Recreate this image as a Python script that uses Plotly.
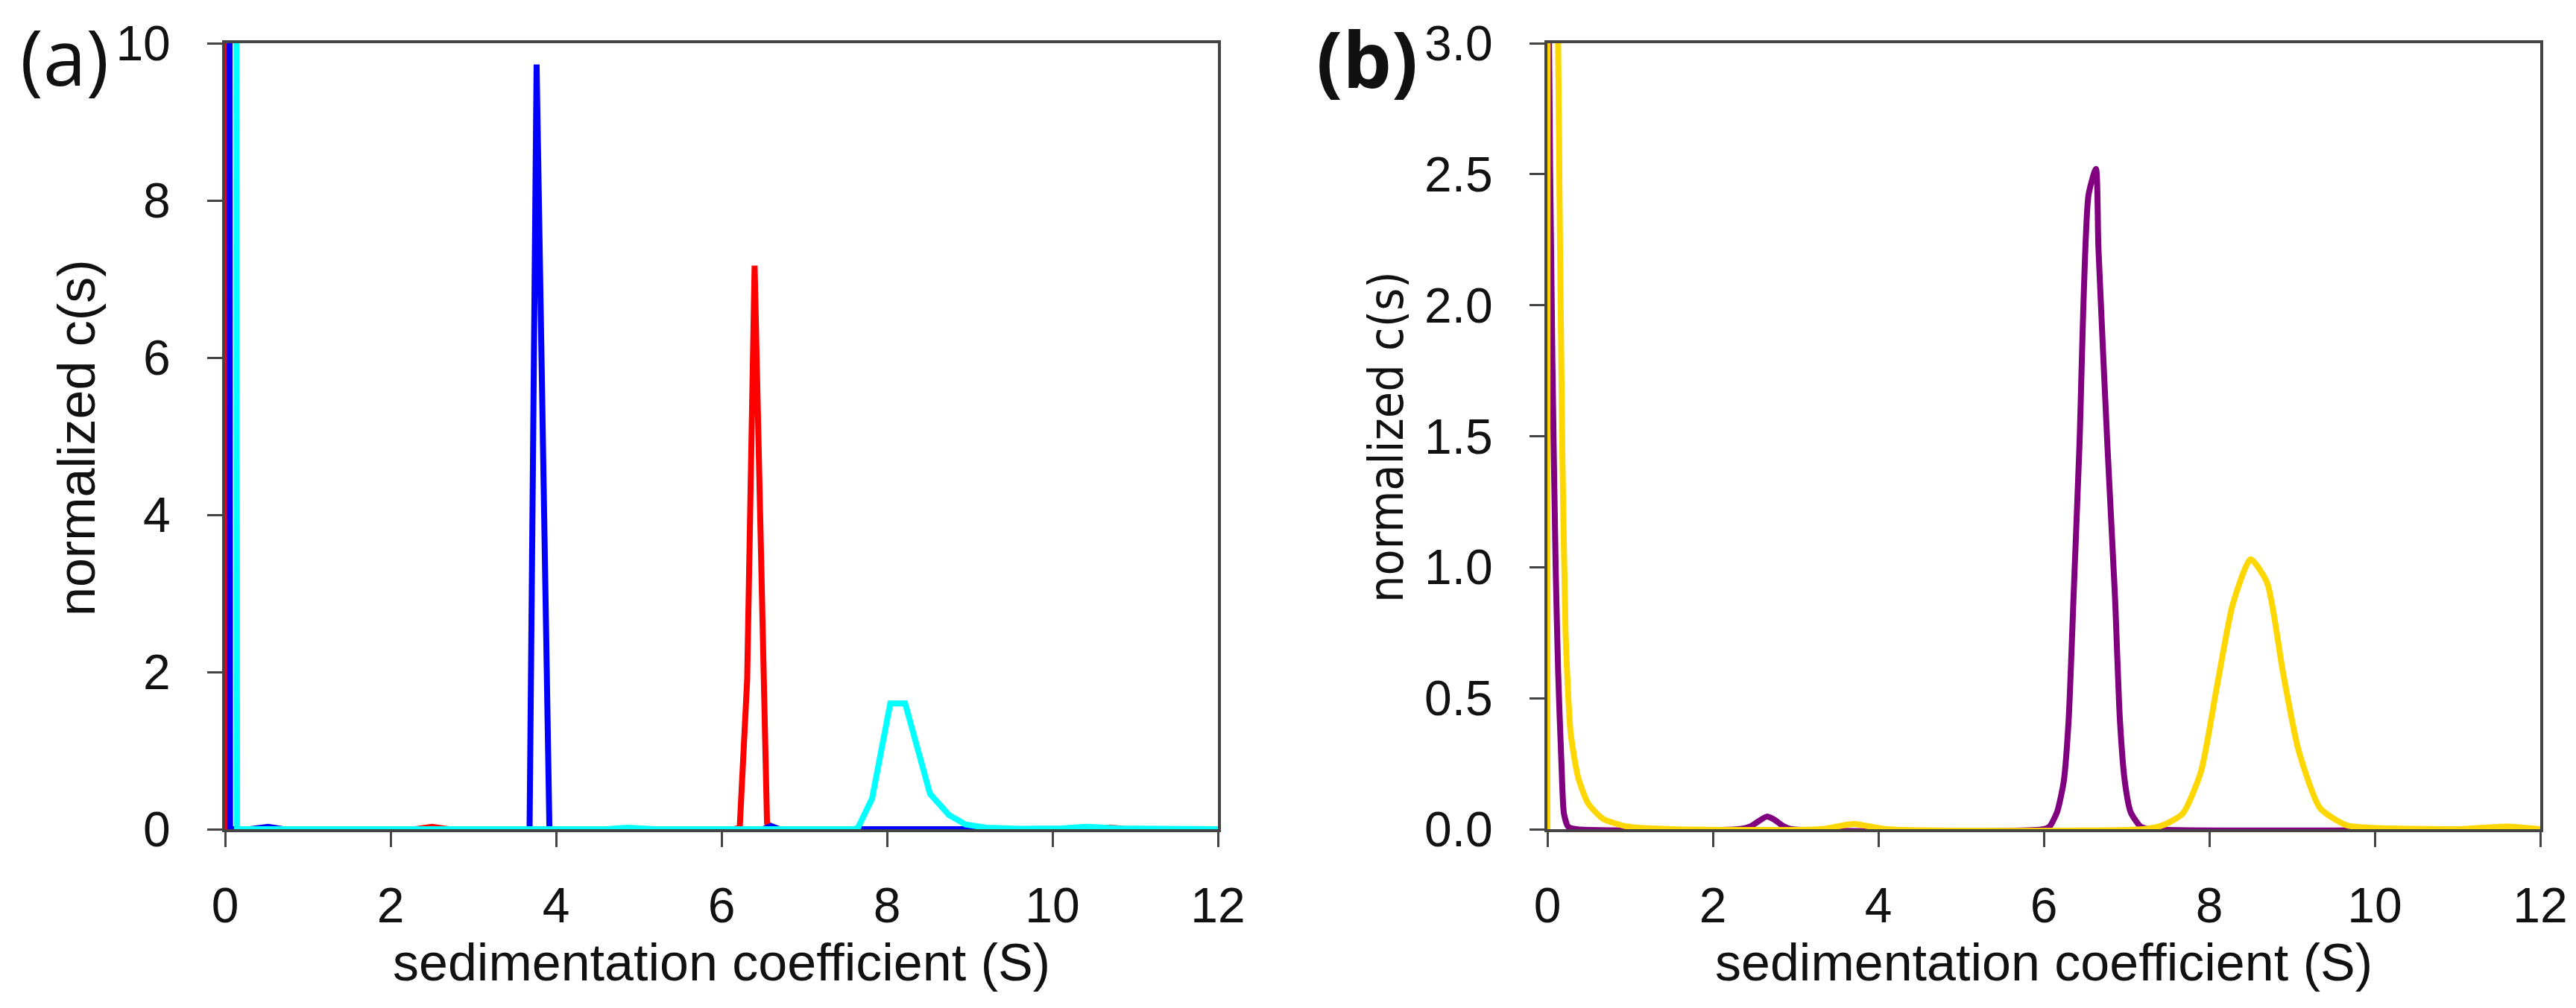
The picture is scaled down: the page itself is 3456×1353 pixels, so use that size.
import plotly.graph_objects as go

W, H = 3456, 1353

# ---------------- Panel (a) data ----------------
a_red_x = [0.0, 0.02, 0.3, 1.0, 2.3, 2.5, 2.7, 4.0, 6.15, 6.22, 6.31, 6.40, 6.55, 6.62, 8.0, 10.5, 10.7, 10.9, 12.0]
a_red_y = [60, 0.0, 0.0, 0.0, 0.0, 0.03, 0.0, 0.0, 0.0, 0.02, 1.9, 7.17, 0.08, 0.0, 0.0, 0.0, 0.02, 0.0, 0.0]

a_blue_x = [0.03, 0.06, 0.3, 0.52, 0.7, 3.6, 3.68, 3.765, 3.92, 4.0, 6.5, 6.6, 6.7, 12.0]
a_blue_y = [60, 0.0, 0.0, 0.03, 0.0, 0.0, 0.0, 9.73, 0.0, 0.0, 0.0, 0.04, 0.0, 0.0]

a_cyan_x = [0.10, 0.145, 0.3, 4.6, 4.86, 5.2, 7.6, 7.65, 7.82, 7.94, 8.04, 8.22, 8.36, 8.52, 8.75, 8.95, 9.2, 9.6, 10.1, 10.42, 10.8, 12.0]
a_cyan_y = [60, 0.0, 0.0, 0.0, 0.02, 0.0, 0.0, 0.02, 0.39, 1.06, 1.6, 1.6, 1.06, 0.45, 0.18, 0.06, 0.02, 0.005, 0.01, 0.03, 0.01, 0.0]

a_yticks = [0, 2, 4, 6, 8, 10]
a_xticks = [0, 2, 4, 6, 8, 10, 12]

# ---------------- Panel (b) data ----------------
b_purple_x = [0.0, 0.005, 0.02, 0.06, 0.10, 0.13, 0.17, 0.20, 0.25, 0.35, 2.3, 2.45, 2.55, 2.65, 2.75, 2.85, 2.95,
              6.0, 6.07, 6.16, 6.24, 6.30, 6.36, 6.43, 6.54, 6.63, 6.66, 6.77, 6.86, 6.92, 6.98, 7.05, 7.17, 7.3, 12.0]
b_purple_y = [0.0, 20, 3.0, 1.8, 1.0, 0.6, 0.25, 0.06, 0.01, 0.0, 0.0, 0.01, 0.03, 0.048, 0.035, 0.012, 0.0,
              0.0, 0.01, 0.065, 0.18, 0.416, 0.89, 1.457, 2.42, 2.52, 2.22, 1.457, 0.89, 0.416, 0.18, 0.065, 0.01, 0.0, 0.0]

b_gold_x = [0.0, 0.03, 0.10, 0.13, 0.18, 0.22, 0.24, 0.28, 0.37, 0.49, 0.67, 0.97, 1.5, 3.3, 3.7, 4.1, 7.2,
            7.43, 7.68, 7.90, 8.09, 8.285, 8.50, 8.70, 8.89, 9.08, 9.34, 9.66, 9.98, 11.0, 11.6, 12.0]
b_gold_y = [0.0, 20, 5.0, 3.0, 1.45, 0.75, 0.59, 0.37, 0.2, 0.1, 0.04, 0.01, 0.0, 0.0, 0.02, 0.0, 0.0,
            0.014, 0.06, 0.22, 0.54, 0.86, 1.03, 0.94, 0.60, 0.30, 0.08, 0.015, 0.005, 0.0, 0.01, 0.0]

b_yticks = [0.0, 0.5, 1.0, 1.5, 2.0, 2.5, 3.0]
b_xticks = [0, 2, 4, 6, 8, 10, 12]

x_title = "sedimentation coefficient (S)"
y_title = "normalized c(s)"

fig = go.Figure()

LW = 8
fig.add_trace(go.Scatter(x=a_red_x, y=a_red_y, mode="lines", line=dict(color="#FF0000", width=LW), xaxis="x", yaxis="y", showlegend=False))
fig.add_trace(go.Scatter(x=a_blue_x, y=a_blue_y, mode="lines", line=dict(color="#0000FF", width=LW), xaxis="x", yaxis="y", showlegend=False))
fig.add_trace(go.Scatter(x=a_cyan_x, y=a_cyan_y, mode="lines", line=dict(color="#00FFFF", width=LW), xaxis="x", yaxis="y", showlegend=False))

fig.add_trace(go.Scatter(x=b_purple_x, y=b_purple_y, mode="lines", line=dict(color="#800080", width=LW, shape="spline", smoothing=0.6), xaxis="x2", yaxis="y2", showlegend=False))
fig.add_trace(go.Scatter(x=b_gold_x, y=b_gold_y, mode="lines", line=dict(color="#FFD700", width=LW, shape="spline", smoothing=0.6), xaxis="x2", yaxis="y2", showlegend=False))

def px(x):
    return x / W

def py(y):
    return 1 - y / H

tick_font = dict(family="Liberation Sans, Arial, sans-serif", size=66, color="#111111")
axis_common = dict(showline=True, linecolor="#444444", linewidth=4, mirror=True,
                   ticks="outside", ticklen=20, tickwidth=3, tickcolor="#444444",
                   showgrid=False, zeroline=False, tickfont=tick_font)

yd = [py(1113), py(58)]
fig.update_layout(
    width=W, height=H,
    margin=dict(l=0, r=0, t=0, b=0, autoexpand=False),
    paper_bgcolor="white", plot_bgcolor="white",
    xaxis=dict(domain=[px(302), px(1634)], range=[0, 12], tickvals=a_xticks, anchor="y",
               ticklabelstandoff=22, **axis_common),
    yaxis=dict(domain=yd, range=[0, 10], tickvals=a_yticks, anchor="x",
               ticklabelstandoff=36, **axis_common),
    xaxis2=dict(domain=[px(2076), px(3408)], range=[0, 12], tickvals=b_xticks, anchor="y2",
                ticklabelstandoff=22, **axis_common),
    yaxis2=dict(domain=yd, range=[0, 3], tickvals=b_yticks, tickformat=".1f", anchor="x2",
                ticklabelstandoff=36, **axis_common),
)

title_font = dict(family="Liberation Sans, Arial, sans-serif", size=70, color="#111111")
narrow_font = dict(family="DejaVu Sans Condensed, Liberation Sans Narrow, Arial Narrow, Liberation Sans, sans-serif",
                   size=64, color="#111111")
label_font = dict(family="Open Sans, Noto Sans, sans-serif", size=104, color="#111111")

annotations = [
    dict(text=x_title, x=px(968), y=py(1292), xref="paper", yref="paper", showarrow=False, font=title_font,
         xanchor="center", yanchor="middle"),
    dict(text=x_title, x=px(2742), y=py(1292), xref="paper", yref="paper", showarrow=False, font=title_font,
         xanchor="center", yanchor="middle"),
    dict(text=y_title, x=px(103), y=py(588), xref="paper", yref="paper", showarrow=False,
         font=title_font, textangle=-90, xanchor="center", yanchor="middle"),
    dict(text=y_title, x=px(1860), y=py(587), xref="paper", yref="paper", showarrow=False,
         font=narrow_font, textangle=-90, xanchor="center", yanchor="middle"),
    dict(text="(a)", x=px(86), y=py(74), xref="paper", yref="paper", showarrow=False, font=label_font,
         xanchor="center", yanchor="middle"),
    dict(text="<b>(b)</b>", x=px(1834), y=py(78), xref="paper", yref="paper", showarrow=False, font=label_font,
         xanchor="center", yanchor="middle"),
]
fig.update_layout(annotations=annotations)

page_fix = ("document.documentElement.style.margin='0';document.documentElement.style.padding='0';"
            "document.documentElement.style.overflow='hidden';"
            "document.body.style.margin='0';document.body.style.padding='0';document.body.style.overflow='hidden';")

fig.write_html("out.html", post_script=page_fix, config={"displayModeBar": False})
